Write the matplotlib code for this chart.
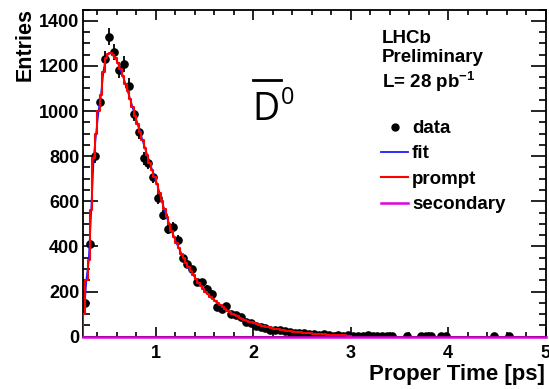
import numpy as np
import matplotlib
matplotlib.use("Agg")
import matplotlib.pyplot as plt
from matplotlib.lines import Line2D
from matplotlib.ticker import MultipleLocator, FixedLocator

plt.rcParams["font.family"] = ["Liberation Sans", "DejaVu Sans"]
plt.rcParams["font.weight"] = "bold"
plt.rcParams["mathtext.fontset"] = "custom"
plt.rcParams["mathtext.rm"] = "Liberation Sans:bold"
plt.rcParams["mathtext.it"] = "Liberation Sans:bold"
plt.rcParams["mathtext.bf"] = "Liberation Sans:bold"

# ---- data: proper-time histogram, 0.05 ps bins starting at 0.25 ps ----
bin_lo = 0.25
bin_width = 0.05
counts = [
    150, 411, 800, 1038, 1231, 1330, 1263, 1182, 1210, 1113,
    987, 907, 790, 770, 708, 615, 540, 477, 488, 428,
    348, 323, 298, 242, 242, 213, 191, 132, 121, 135,
    100, 96, 88, 66, 59, 47, 44, 37, 30, 30,
    28, 25, 22, 18, 16, 18, 14, 12, 8, 10,
    6, 4, 6, 5, 6, 4, 5, 3, 7, 4,
    3, 4, 2, 3, 0, 0, 3, 0, 0, 2,
    3, 2, 0, 3, 2, 0, 0, 0, 0, 0,
    0, 0, 0, 0, 2, 0, 0, 2, 0, 0,
    0, 0, 0, 0, 0,
]

# ---- fit components, sampled every 0.025 ps from 0.25 ps ----
curve_lo = 0.25
curve_step = 0.025
prompt = [
    100, 250, 340, 560, 790, 900, 1000, 1070, 1175, 1235, 1255, 1258, 1250, 1235,
    1212, 1185, 1155, 1122, 1088, 1052, 1016, 980, 944, 908, 873, 838, 804, 771, 739, 708,
    678, 638, 600, 565, 531, 500, 470, 442, 416, 392, 368, 347, 326, 307, 289, 272,
    256, 240, 226, 213, 200, 188, 177, 167, 157, 148, 139, 131, 123, 116, 109, 102,
    96, 91, 85, 80, 75, 71, 67, 63, 59, 56, 52, 49, 46, 44, 41, 39, 36, 34, 32, 30,
    28, 27, 25, 24, 22, 21, 20, 19, 17, 16, 15, 15, 14, 13, 12, 11, 11, 10, 9, 9,
    8, 8, 7, 7, 6, 6, 5, 5,
]
secondary_t = [0.25, 5.0]
secondary = [0.0, 0.0]

x_ticks = [1, 2, 3, 4, 5]
y_ticks = [0, 200, 400, 600, 800, 1000, 1200, 1400]

W, H = 549, 389
fig = plt.figure(figsize=(W / 100, H / 100), dpi=100)
ax = fig.add_axes([82.7 / W, 1 - 336.7 / H, (545.5 - 82.7) / W, (336.7 - 9.5) / H])

counts = np.asarray(counts, float)
centers = bin_lo + bin_width * (np.arange(len(counts)) + 0.5)
shown = counts > 0
xc, yc = centers[shown], counts[shown]

prompt = np.asarray(prompt, float)
edges = curve_lo + curve_step * np.arange(len(prompt) + 1)
mids = 0.5 * (edges[:-1] + edges[1:])
fit_total = prompt  # secondary contribution is zero

# data with Poisson errors
ax.errorbar(xc, yc, yerr=np.sqrt(yc), fmt="none", ecolor="black",
            elinewidth=1.3, capsize=0, zorder=2)
data_h, = ax.plot(xc, yc, "o", color="black", markersize=5.2, zorder=2.2)

fit_h, = ax.plot(mids, fit_total, color="#1a1aff", lw=1.3, zorder=2.4)
step_x = np.r_[edges[0], edges]
step_y = np.r_[0.0, prompt, prompt[-1]]
prompt_h, = ax.plot(step_x, step_y, drawstyle="steps-post", color="#ff0000",
                    lw=1.5, zorder=2.6)
sec_h, = ax.plot(secondary_t, secondary, color="#e000e0", lw=1.8, zorder=3,
                 clip_on=False)

ax.set_xlim(0.25, 5.0)
ax.set_ylim(0, 1450)
ax.xaxis.set_major_locator(FixedLocator(x_ticks))
ax.xaxis.set_minor_locator(MultipleLocator(0.2))
ax.yaxis.set_major_locator(FixedLocator(y_ticks))
ax.yaxis.set_minor_locator(MultipleLocator(50))

for s in ax.spines.values():
    s.set_linewidth(1.3)
ax.tick_params(which="both", direction="in", top=True, right=True, width=1.2,
               labelsize=13)
ax.tick_params(axis="x", which="major", length=7.5, pad=6)
ax.tick_params(axis="x", which="minor", length=3.8)
ax.tick_params(axis="y", which="major", length=10.5, pad=2.5)
ax.tick_params(axis="y", which="minor", length=5)
for lab in ax.get_xticklabels() + ax.get_yticklabels():
    lab.set_fontweight("bold")

# axis titles, ROOT style (flush to the ends of the axes)
fig.text(545 / W, 1 - 380 / H, "Proper Time [ps]", ha="right", va="baseline",
         fontsize=16, fontweight="bold")
fig.text(25 / W, 1 - 8 / H, "Entries", rotation=90, ha="center", va="top",
         fontsize=15.5, fontweight="bold")

# experiment labels
fig.text(382 / W, 1 - 42.7 / H, "LHCb", ha="left", va="baseline",
         fontsize=13.5, fontweight="bold")
fig.text(382 / W, 1 - 61.5 / H, "Preliminary", ha="left", va="baseline",
         fontsize=13.5, fontweight="bold")
fig.text(382 / W, 1 - 87.5 / H, r"L= 28 pb$^{-1}$", ha="left", va="baseline",
         fontsize=13.5, fontweight="bold")

# anti-D0 label
fig.text(252 / W, 1 - 120 / H, "D", ha="left", va="baseline", fontsize=27,
         fontweight="normal", family="Open Sans")
fig.text(281 / W, 1 - 103.5 / H, "0", ha="left", va="baseline", fontsize=17,
         fontweight="normal", family="Open Sans")
fig.add_artist(Line2D([253 / W, 281 / W], [1 - 80 / H, 1 - 80 / H],
                      transform=fig.transFigure, color="black", lw=2.0))

leg = fig.legend([data_h, fit_h, prompt_h, sec_h],
                 ["data", "fit", "prompt", "secondary"],
                 loc="upper left", bbox_to_anchor=(381 / W, 1 - 120 / H),
                 frameon=False, handlelength=1.45,
                 handletextpad=0.2, labelspacing=0.44, borderpad=0,
                 borderaxespad=0, prop={"weight": "bold", "size": 13.5})
for h in leg.legend_handles:
    if h.get_marker() not in (None, "None", ""):
        h.set_markersize(5)

fig.savefig("out.png", dpi=100, facecolor="white")
